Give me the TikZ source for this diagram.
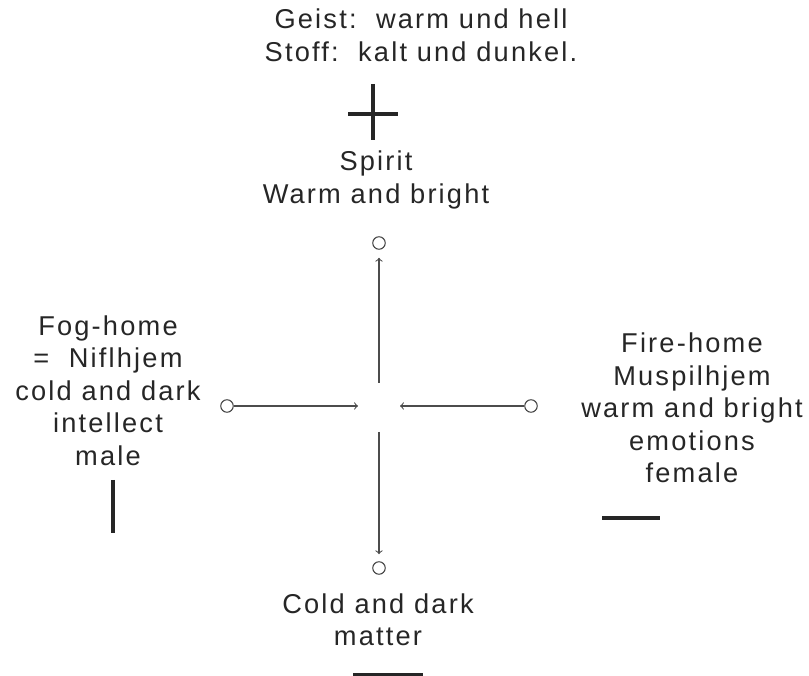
\documentclass[tikz,border=0pt]{standalone}
\usepackage{fontspec}
\setmainfont[LetterSpace=8]{Liberation Sans}
\usetikzlibrary{arrows}
\tikzstyle{arrow} = [->, >=to, draw=black!70, line width=0.6pt]
\tikzstyle{bar} = [line width=0.08cm, black!85]
\tikzstyle{ring} = [circle, draw=black!75, line width=0.6pt, inner sep=0pt, minimum size=0.25cm]

\begin{document}
\begin{tikzpicture}[every node/.style={align=center, font=\fontsize{15.5}{18.5}\selectfont, text=black!85}]
            \useasboundingbox (0,0) rectangle (16.18,-13.52);

            \node (head) at (8.42,-0.71) {Geist:\ \ warm und hell\\Stoff:\ \ kalt und dunkel.};
            \node (spirit) at (7.52,-3.6) {Spirit\\Warm and bright};
            \node (fog) at (2.16,-7.81) {Fog-home\\= \ Niflhjem\\cold and dark\\intellect\\male};
            \node (fire) at (13.84,-8.16) {Fire-home\\Muspilhjem\\warm and bright\\emotions\\female};
            \node (matter) at (7.56,-12.4) {Cold and dark\\matter};

            \node[ring] (N) at (7.58,-4.86) {};
            \node[ring] (S) at (7.58,-11.36) {};
            \node[ring] (W) at (4.54,-8.12) {};
            \node[ring] (E) at (10.62,-8.12) {};

            \coordinate (cN) at (7.58,-7.66);
            \coordinate (cS) at (7.58,-8.64);
            \coordinate (cW) at (7.16,-8.12);
            \coordinate (cE) at (8.0,-8.12);

            \draw[arrow, shorten >=0.16cm] (cN) -- (N);
            \draw[arrow, shorten >=0.14cm] (cS) -- (S);
            \draw[arrow] (W) -- (cW);
            \draw[arrow] (E) -- (cE);

            \draw[bar] (7.46,-1.68) -- (7.46,-2.8);
            \draw[bar] (6.96,-2.28) -- (7.96,-2.28);
            \draw[bar] (2.26,-9.6) -- (2.26,-10.66);
            \draw[bar] (12.04,-10.36) -- (13.2,-10.36);
            \draw[bar] (7.06,-13.5) -- (8.46,-13.5);
        \end{tikzpicture}
\end{document}
